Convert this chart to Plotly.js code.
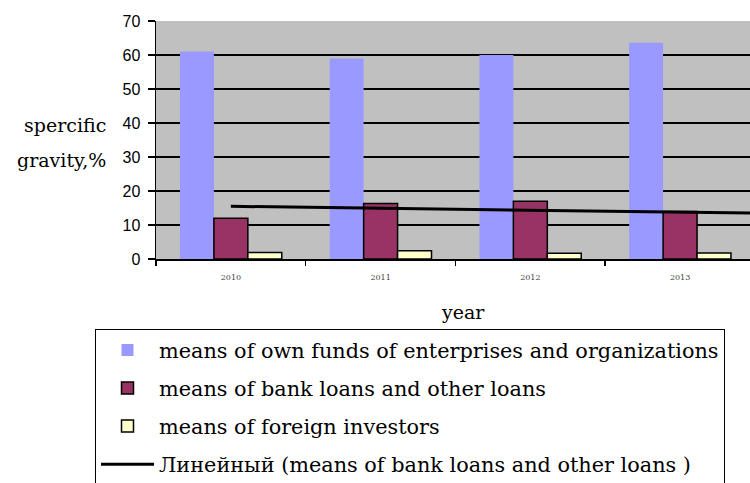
<!DOCTYPE html>
<html><head><meta charset="utf-8">
<script src="https://cdn.plot.ly/plotly-3.0.1.min.js"></script>
<style>html,body{margin:0;padding:0;overflow:hidden;background:#fff}</style>
</head><body><div id="chart" style="width:750px;height:483px"></div>
<script>
const years = ['2010', '2011', '2012', '2013'];
const yearIdx = [0, 1, 2, 3];
const ownFunds = [61, 59, 60, 63.6];
const bankLoans = [12, 16.3, 17, 14];
const foreignInv = [1.9, 2.4, 1.7, 1.8];
const trendX = [0, 3.5];
const trendY = [15.5, 13.5];
const names = [
  'means of own funds of enterprises and organizations',
  'means of bank loans and other loans',
  'means of foreign investors',
  'Линейный (means of bank loans and other loans )'
];

const serif = 'DejaVu Serif, Liberation Serif, serif';
const traces = [
  {type:'bar', x:yearIdx, y:ownFunds, name:names[0], legendgroup:'a',
   marker:{color:'#9999FF', line:{width:0}}},
  {type:'bar', x:yearIdx, y:bankLoans, name:names[1], legendgroup:'b',
   marker:{color:'#993366', line:{color:'#000', width:1.5}}},
  {type:'bar', x:yearIdx, y:foreignInv, name:names[2], legendgroup:'c',
   marker:{color:'#FFFFCC', line:{color:'#000', width:1.5}}},
  {type:'scatter', mode:'lines', x:trendX, y:trendY, name:names[3], legendgroup:'d',
   line:{color:'#000', width:3}, hoverinfo:'skip'}
];

const layout = {
  width:750, height:483,
  margin:{l:156, r:0, t:21, b:224, pad:0, autoexpand:false},
  paper_bgcolor:'#fff', plot_bgcolor:'#C0C0C0',
  barmode:'group', bargap:0.32, bargroupgap:0,
  showlegend:true,
  xaxis:{
    range:[-0.5, 3.467], tickvals:yearIdx, ticktext:years, ticks:'', tickangle:0,
    tickfont:{family:serif, size:8, color:'#444'}, ticklabelstandoff:10,
    showgrid:false, zeroline:false, showline:true, linecolor:'#000', linewidth:1.5,
    minor:{tick0:0.5, dtick:1, ticks:'outside', ticklen:5, tickcolor:'#000', tickwidth:1.5, showgrid:false}
  },
  yaxis:{
    range:[0, 70], dtick:10, ticks:'outside', ticklen:7, tickcolor:'#000', tickwidth:1.5,
    tickfont:{family:'Liberation Sans, Arial, sans-serif', size:16, color:'#000'}, ticklabelstandoff:4,
    showgrid:true, gridcolor:'#000', gridwidth:1.5, zeroline:false,
    showline:true, linecolor:'#000', linewidth:1.5
  },
  legend:{
    xref:'container', yref:'container', x:95/750, y:1-329/483, xanchor:'left', yanchor:'top',
    bgcolor:'#fff', bordercolor:'#000', borderwidth:1,
    font:{family:serif, size:20.8, color:'#000'},
    traceorder:'grouped', tracegroupgap:8, itemwidth:53
  },
  annotations:[
    {xref:'paper', yref:'paper', x:-0.08, y:(259-125)/238, xanchor:'right', yanchor:'middle',
     text:'spercific', showarrow:false, font:{family:serif, size:19, color:'#000'}},
    {xref:'paper', yref:'paper', x:-0.08, y:(259-160)/238, xanchor:'right', yanchor:'middle',
     text:'gravity,%', showarrow:false, font:{family:serif, size:19, color:'#000'}},
    {xref:'paper', yref:'paper', x:(463-156)/594, y:(259-312)/238, xanchor:'center', yanchor:'middle',
     text:'year', showarrow:false, font:{family:serif, size:19, color:'#000'}}
  ]
};
Plotly.newPlot('chart', traces, layout, {displayModeBar:false, staticPlot:true});
</script></body></html>
